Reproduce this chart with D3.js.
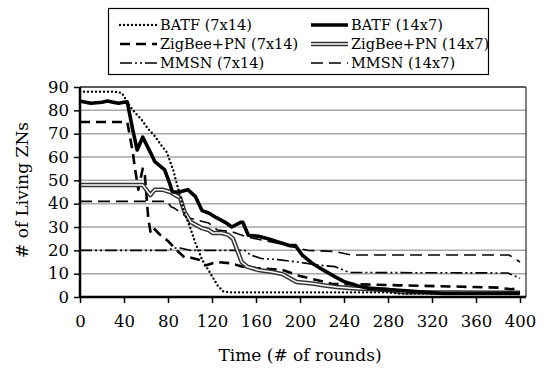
<!DOCTYPE html>
<html>
<head>
<meta charset="utf-8">
<script src="https://cdn.jsdelivr.net/npm/d3@7"></script>
<style>
  body { margin: 0; background: #fff; }
  svg text { font-family: "DejaVu Serif", serif; fill: #000; }
</style>
</head>
<body>
<div id="canvas"></div>
<script>
// values: [round, living ZNs]
const batf7x14 = [[0,88],[10,88],[20,88],[30,88],[38,87.5],[45,82],[50,79],[56,76],[62,72],[68,69],[74,65],[79,62],[85,54],[90,45],[95,36],[100,30],[105,23],[111,16],[120,9],[125,5],[130,2.5],[135,2],[200,2],[280,2],[290,1.5],[400,1.5]];
const batf14x7 = [[0,84],[5,83.5],[10,83],[20,83.5],[25,84],[30,83.5],[35,83],[40,83.5],[43,83.5],[48,71.5],[52,63],[57,68.5],[64,62],[68,58],[77,54.5],[82,48],[84,45],[90,45],[98,46],[105,43],[111,37],[117,36],[124,34],[132,32],[138,30],[146,32],[148,32],[153,26.5],[162,26],[171,25],[180,23.6],[191,22],[196,22],[202,18],[211,14.5],[221,11.6],[232,8.6],[241,6.4],[253,4.7],[262,3.8],[286,3],[300,2.5],[330,1.5],[400,1.5]];
const zigbee7x14 = [[0,75],[43,75],[48,62],[50,55],[53,46],[57,55],[59,52],[62,34],[64,28],[66,30],[72,27],[80,24],[88,20],[95,17],[100,17],[108,16],[114,13.5],[124,15],[136,14.5],[148,13],[160,12.4],[184,11.6],[200,9],[215,7.3],[230,5.5],[250,5.5],[290,5],[340,4.5],[380,4],[392,3.3],[400,3.8]];
const zigbee14x7 = [[0,48],[50,48],[57,48],[64,43.7],[68,46],[75,46],[82,45],[91,42.5],[95,36.5],[101,32],[111,29.5],[117,28.7],[121,27.4],[129,27.4],[135,26.6],[139,25],[143,20],[147,15],[152,13],[162,11.6],[175,10.7],[184,9.8],[197,6.4],[211,5.8],[221,5],[233,4.3],[247,3.8],[280,3],[295,2],[400,1.8]];
const mmsn7x14 = [[0,20],[80,20],[85,21],[91,21],[100,20],[150,20],[155,18],[165,16.5],[180,16],[197,15],[205,14.5],[216,13.7],[232,13],[245,10.5],[389,10.3],[400,8]];
const mmsn14x7 = [[0,41],[79,41],[83,38.6],[86,38],[98,34],[106,33],[117,31.7],[125,28.7],[138,28],[150,26],[165,24.4],[180,23],[193,21.5],[207,20],[232,19.5],[247,18],[390,18],[400,15]];

const xTicks = [0, 40, 80, 120, 160, 200, 240, 280, 320, 360, 400];
const yTicks = [0, 10, 20, 30, 40, 50, 60, 70, 80, 90];

const width = 548, height = 369;
const plotLeft = 80, plotRight = 520, frameRight = 526, plotTop = 87, plotBottom = 297;

const svg = d3.select("#canvas").append("svg")
    .attr("width", width)
    .attr("height", height);

const x = d3.scaleLinear().domain([0, 400]).range([plotLeft, plotRight]);
const y = d3.scaleLinear().domain([0, 90]).range([plotBottom, plotTop]);

// gridlines
svg.append("g")
    .selectAll("line")
    .data(yTicks.filter(d => d > 0 && d < 90))
    .enter().append("line")
    .attr("x1", plotLeft).attr("x2", frameRight)
    .attr("y1", d => y(d)).attr("y2", d => y(d))
    .style("stroke", "#a8a8a8")
    .style("stroke-width", 1.5);

// frame top / right
svg.append("line").attr("x1", plotLeft).attr("x2", frameRight).attr("y1", plotTop).attr("y2", plotTop)
    .style("stroke", "#222").style("stroke-width", 1.5);
svg.append("line").attr("x1", frameRight).attr("x2", frameRight).attr("y1", plotTop).attr("y2", plotBottom)
    .style("stroke", "#555").style("stroke-width", 1.5);

const line = d3.line().x(d => x(d[0])).y(d => y(d[1]));

const series = [
    { name: "MMSN (7x14)", data: mmsn7x14, width: 1.6, dash: "12,3,2,3,2,3" },
    { name: "MMSN (14x7)", data: mmsn14x7, width: 1.6, dash: "12,6" },
    { name: "ZigBee+PN (7x14)", data: zigbee7x14, width: 2.6, dash: "10,6" },
    { name: "ZigBee+PN (14x7)", data: zigbee14x7, width: 4.5, dash: null, double: true },
    { name: "BATF (7x14)", data: batf7x14, width: 2.4, dash: "0,4", cap: "round" },
    { name: "BATF (14x7)", data: batf14x7, width: 3.6, dash: null }
];

const g = svg.append("g");
series.forEach(s => {
    g.append("path")
        .datum(s.data)
        .attr("d", line)
        .style("fill", "none")
        .style("stroke", s.double ? "#333" : "#000")
        .style("stroke-width", s.width)
        .style("stroke-dasharray", s.dash)
        .style("stroke-linecap", s.cap || "butt")
        .style("stroke-linejoin", "round");
    if (s.double) {
        g.append("path")
            .datum(s.data)
            .attr("d", line)
            .style("fill", "none")
            .style("stroke", "#fff")
            .style("stroke-width", 1.5)
            .style("stroke-linejoin", "round");
    }
});

// axes
const xAxis = svg.append("g")
    .attr("transform", `translate(0,${plotBottom})`)
    .call(d3.axisBottom(x).tickValues(xTicks).tickSize(6).tickPadding(12));
const yAxis = svg.append("g")
    .attr("transform", `translate(${plotLeft},0)`)
    .call(d3.axisLeft(y).tickValues(yTicks).tickSize(6).tickPadding(5));

[xAxis, yAxis].forEach(a => {
    a.select(".domain").style("stroke", "#000").style("stroke-width", 2.5);
    a.selectAll(".tick line").style("stroke", "#000").style("stroke-width", 1.5);
    a.selectAll("text").style("font-family", "DejaVu Serif").style("font-size", "16.5px");
});
xAxis.select(".domain").attr("d", `M${plotLeft},0H${frameRight}`);
yAxis.select(".domain").attr("d", `M0,${plotTop}V${plotBottom}`);

// axis titles
svg.append("text")
    .attr("x", 300).attr("y", 361)
    .attr("text-anchor", "middle")
    .style("font-size", "17px")
    .text("Time (# of rounds)");
svg.append("text")
    .attr("transform", "translate(28,190) rotate(-90)")
    .attr("text-anchor", "middle")
    .style("font-size", "17px")
    .text("# of Living ZNs");

// legend
const legend = svg.append("g");
legend.append("rect")
    .attr("x", 108.5).attr("y", 8.5).attr("width", 380).attr("height", 66)
    .style("fill", "#fff").style("stroke", "#000").style("stroke-width", 1.2);

const legendItems = [
    { s: series[4], col: 0, row: 0 },
    { s: series[5], col: 1, row: 0 },
    { s: series[2], col: 0, row: 1 },
    { s: series[3], col: 1, row: 1 },
    { s: series[0], col: 0, row: 2 },
    { s: series[1], col: 1, row: 2 }
];
const colX = [120, 311];
const rowY = [25, 44, 63];
legendItems.forEach(it => {
    const x0 = colX[it.col], yy = rowY[it.row];
    legend.append("line")
        .attr("x1", x0).attr("x2", x0 + 37).attr("y1", yy).attr("y2", yy)
        .style("stroke", it.s.double ? "#333" : "#000")
        .style("stroke-width", it.s.width)
        .style("stroke-dasharray", it.s.dash)
        .style("stroke-linecap", it.s.cap || "butt");
    if (it.s.double) {
        legend.append("line")
            .attr("x1", x0).attr("x2", x0 + 37).attr("y1", yy).attr("y2", yy)
            .style("stroke", "#fff").style("stroke-width", 1.5);
    }
    legend.append("text")
        .attr("x", x0 + 40).attr("y", yy + 5)
        .style("font-size", "14.5px")
        .text(it.s.name);
});
</script>
</body>
</html>
